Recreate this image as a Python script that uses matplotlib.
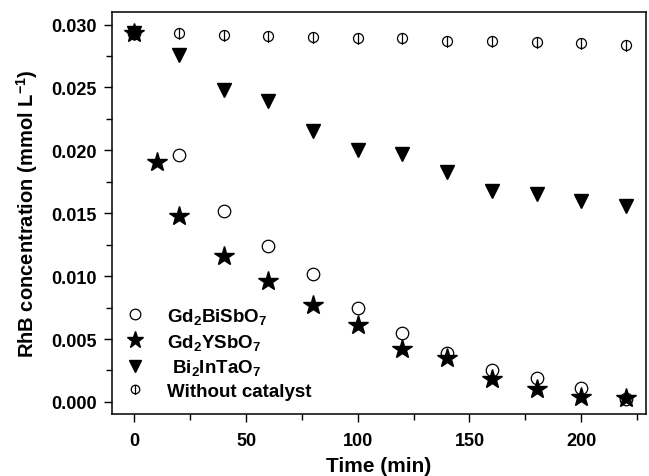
import matplotlib
matplotlib.use("Agg")
import matplotlib.pyplot as plt
from matplotlib.path import Path
from matplotlib.ticker import MultipleLocator

plt.rcParams['font.family'] = ['Liberation Sans', 'DejaVu Sans']
plt.rcParams['font.weight'] = 'bold'
plt.rcParams['mathtext.fontset'] = 'custom'
plt.rcParams['mathtext.rm'] = 'Liberation Sans:bold'
plt.rcParams['mathtext.bf'] = 'Liberation Sans:bold'
plt.rcParams['mathtext.it'] = 'Liberation Sans:bold'
plt.rcParams['mathtext.default'] = 'rm'

t_main = [0, 20, 40, 60, 80, 100, 120, 140, 160, 180, 200, 220]
t_star = [0, 10, 20, 40, 60, 80, 100, 120, 140, 160, 180, 200, 220]

gd2bisbo7 = [0.0293, 0.0196, 0.0152, 0.0124, 0.0102, 0.0075, 0.0055, 0.0039, 0.0025, 0.0019, 0.0011, 0.0002]
gd2ysbo7 = [0.0293, 0.0191, 0.0148, 0.0116, 0.0096, 0.0077, 0.0061, 0.0042, 0.0035, 0.0018, 0.0010, 0.0004, 0.0003]
bi2intao7 = [0.0293, 0.0276, 0.0248, 0.0239, 0.0215, 0.0200, 0.0197, 0.0183, 0.0168, 0.0165, 0.0160, 0.0156]
without = [0.0293, 0.0293, 0.0292, 0.0291, 0.0290, 0.0289, 0.0289, 0.0287, 0.0287, 0.0286, 0.0285, 0.0284]

labels = ['Gd$_2$BiSbO$_7$', 'Gd$_2$YSbO$_7$', ' Bi$_2$InTaO$_7$', 'Without catalyst']

circ = Path.unit_circle()
line = Path([[0, -1.25], [0, 1.0]], [Path.MOVETO, Path.LINETO])
phi_marker = Path.make_compound_path(circ, line)

fig = plt.figure(figsize=(6.49, 4.77), dpi=100)
ax = fig.add_axes([112/649, 1 - 415/477, (646-112)/649, (415-13)/477])

ax.plot(t_main, without, linestyle='none', marker=phi_marker, markersize=9,
        markerfacecolor='none', markeredgecolor='black', markeredgewidth=0.9, label=labels[3])
ax.plot(t_main, bi2intao7, linestyle='none', marker='v', markersize=10,
        color='black', label=labels[2])
ax.plot(t_main, gd2bisbo7, linestyle='none', marker='o', markersize=9,
        markerfacecolor='none', markeredgecolor='black', markeredgewidth=0.9, label=labels[0])
ax.plot(t_star, gd2ysbo7, linestyle='none', marker='*', markersize=15,
        color='black', label=labels[1])

ax.set_xlim(-10, 229)
ax.set_ylim(-0.00096, 0.031)
ax.xaxis.set_major_locator(MultipleLocator(50))
ax.xaxis.set_minor_locator(MultipleLocator(25))
ax.yaxis.set_major_locator(MultipleLocator(0.005))
ax.yaxis.set_minor_locator(MultipleLocator(0.0025))
ax.yaxis.set_major_formatter(matplotlib.ticker.FormatStrFormatter('%.3f'))
ax.tick_params(which='major', direction='out', length=6, width=1, labelsize=13)
ax.tick_params(which='minor', direction='out', length=4, width=1)
ax.tick_params(axis='x', pad=7)
ax.tick_params(axis='y', pad=5)
for s in ax.spines.values():
    s.set_linewidth(1.1)

ax.set_xlabel('Time (min)', fontsize=15, fontweight='bold', labelpad=5)
ax.set_ylabel('RhB concentration (mmol L$^{-1}$)', fontsize=14.5, fontweight='bold', labelpad=8)

handles, labs = ax.get_legend_handles_labels()
order = [2, 3, 1, 0]
leg = ax.legend([handles[i] for i in order], [labs[i] for i in order],
                loc='lower left', bbox_to_anchor=(0.0, 0.0), frameon=False,
                fontsize=13.5, handlelength=1.0, handletextpad=1.2, labelspacing=0.3,
                borderaxespad=0.35, markerscale=0.85)

fig.savefig('out.png', dpi=100)
